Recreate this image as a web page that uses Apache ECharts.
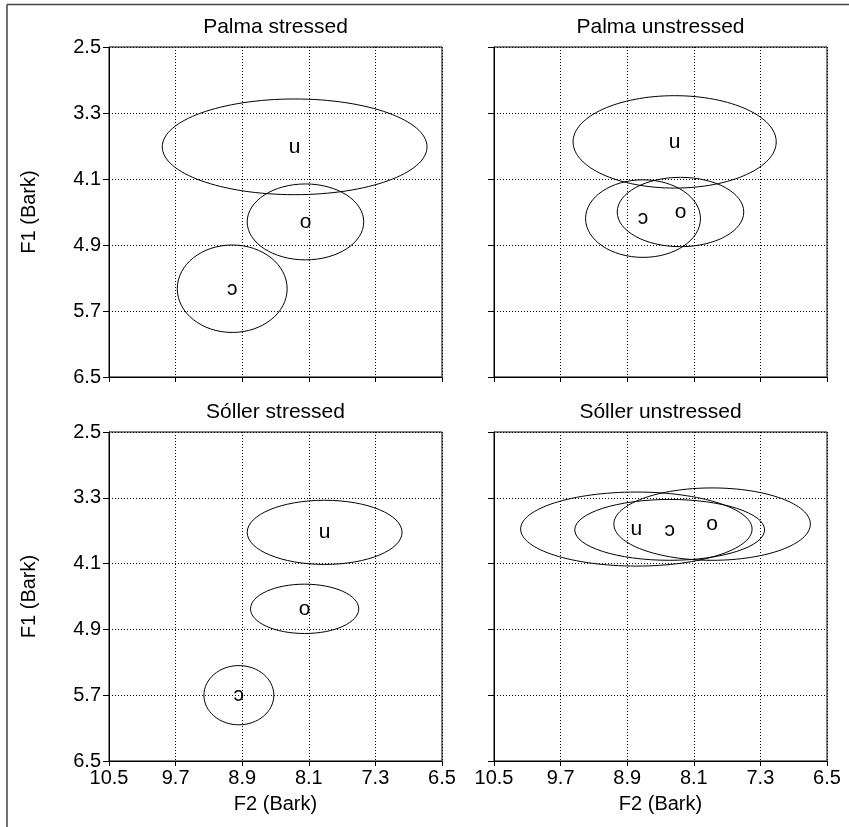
<!DOCTYPE html>
<html>
<head>
<meta charset="utf-8">
<script src="https://cdn.jsdelivr.net/npm/echarts@6/dist/echarts.min.js"></script>
<style>
  html, body { margin: 0; padding: 0; background: #fff; }
  #chart { width: 849px; height: 827px; }
</style>
</head>
<body>
<div id="chart"></div>
<script>
// panel titles, in grid order (top-left, top-right, bottom-left, bottom-right)
var panelTitles = ['Palma stressed', 'Palma unstressed', 'Sóller stressed', 'Sóller unstressed']
// vowel order inside every panel
var vowels = ['u', 'o', 'ɔ']
// ellipse centres, F2 and F1 (Bark)
var f2Centre = [[8.27, 8.14, 9.02], [8.33, 8.26, 8.71], [7.91, 8.15, 8.94], [8.79, 7.88, 8.39]]
var f1Centre = [[3.71, 4.62, 5.43], [3.65, 4.50, 4.58], [3.72, 4.65, 5.70], [3.68, 3.62, 3.69]]
// ellipse half-widths (F2) and half-heights (F1), Bark
var f2Radius = [[1.59, 0.70, 0.66], [1.22, 0.76, 0.69], [0.93, 0.65, 0.42], [1.39, 1.18, 1.14]]
var f1Radius = [[0.58, 0.46, 0.53], [0.56, 0.42, 0.47], [0.39, 0.30, 0.36], [0.45, 0.44, 0.37]]
// tick values
var f2Ticks = [10.5, 9.7, 8.9, 8.1, 7.3, 6.5]
var f1Ticks = [2.5, 3.3, 4.1, 4.9, 5.7, 6.5]

var FONT = '"Liberation Sans", Arial, Helvetica, sans-serif'

// pixel boxes of the four plots
var gridBox = [
  { left: 109, top: 47, width: 333, height: 330 },
  { left: 494, top: 47, width: 333, height: 330 },
  { left: 109, top: 432, width: 333, height: 329 },
  { left: 494, top: 432, width: 333, height: 329 }
]

var grids = []
var xAxes = []
var yAxes = []
var series = []
var graphics = []

gridBox.forEach(function (b, i) {
  var isBottom = i >= 2
  var isLeft = i % 2 === 0
  grids.push({
    left: b.left, top: b.top, width: b.width, height: b.height,
    show: true, borderColor: '#000', borderWidth: 1, backgroundColor: 'transparent'
  })
  xAxes.push({
    gridIndex: i,
    type: 'value',
    min: 6.5,
    max: 10.5,
    inverse: true,
    name: isBottom ? 'F2 (Bark)' : '',
    nameLocation: 'middle',
    nameGap: 33,
    nameTextStyle: { color: '#000', fontSize: 20, fontFamily: FONT },
    axisLine: { show: true, onZero: false, lineStyle: { color: '#000', width: 1 } },
    axisTick: { show: true, inside: false, length: 5, lineStyle: { color: '#000' }, customValues: f2Ticks },
    axisLabel: {
      show: isBottom, margin: 7, color: '#000', fontSize: 20, fontFamily: FONT,
      customValues: f2Ticks,
      formatter: function (v) { return v.toFixed(1) },
      showMinLabel: true, showMaxLabel: true
    },
    splitLine: { show: true, lineStyle: { color: '#000', type: [1, 2], width: 1 } }
  })
  yAxes.push({
    gridIndex: i,
    type: 'value',
    min: 2.5,
    max: 6.5,
    inverse: true,
    name: isLeft ? 'F1 (Bark)' : '',
    nameLocation: 'middle',
    nameGap: 70,
    nameTextStyle: { color: '#000', fontSize: 20, fontFamily: FONT },
    axisLine: { show: true, onZero: false, lineStyle: { color: '#000', width: 1 } },
    axisTick: { show: true, inside: false, length: 6, lineStyle: { color: '#000' }, customValues: f1Ticks },
    axisLabel: {
      show: isLeft, margin: 8, color: '#000', fontSize: 20, fontFamily: FONT,
      customValues: f1Ticks,
      formatter: function (v) { return v.toFixed(1) },
      showMinLabel: true, showMaxLabel: true
    },
    splitLine: { show: true, lineStyle: { color: '#000', type: [1, 2], width: 1 } }
  })

  var data = vowels.map(function (v, j) {
    return [f2Centre[i][j], f1Centre[i][j], f2Radius[i][j], f1Radius[i][j]]
  })
  series.push({
    type: 'custom',
    xAxisIndex: i,
    yAxisIndex: i,
    silent: true,
    dimensions: ['f2', 'f1', 'rf2', 'rf1'],
    encode: { x: 0, y: 1 },
    data: data,
    renderItem: function (params, api) {
      var c = [api.value(0), api.value(1)]
      var p = api.coord(c)
      var s = api.size([api.value(2) * 2, api.value(3) * 2], c)
      return {
        type: 'group',
        children: [
          {
            type: 'ellipse',
            shape: { cx: p[0], cy: p[1], rx: s[0] / 2, ry: s[1] / 2 },
            style: { fill: 'none', stroke: '#000', lineWidth: 1 }
          },
          {
            type: 'text',
            x: p[0],
            y: p[1],
            style: {
              text: vowels[params.dataIndex],
              fill: '#000',
              fontSize: 21,
              fontFamily: FONT,
              align: 'center',
              verticalAlign: 'middle'
            }
          }
        ]
      }
    }
  })

  graphics.push({
    type: 'text',
    x: b.left + b.width / 2,
    y: b.top - 20,
    style: {
      text: panelTitles[i], fill: '#000', fontSize: 21, fontFamily: FONT,
      align: 'center', verticalAlign: 'middle'
    }
  })
})

// outer frame (only top and left edges are visible)
graphics.push({ type: 'line', shape: { x1: 7, y1: 4.5, x2: 849, y2: 4.5 }, style: { stroke: '#444', lineWidth: 1.5 } })
graphics.push({ type: 'line', shape: { x1: 7, y1: 4.5, x2: 7, y2: 827 }, style: { stroke: '#444', lineWidth: 1.5 } })

var chart = echarts.init(document.getElementById('chart'), null, { renderer: 'canvas' })
chart.setOption({
  backgroundColor: '#fff',
  animation: false,
  grid: grids,
  xAxis: xAxes,
  yAxis: yAxes,
  series: series,
  graphic: graphics
})
</script>
</body>
</html>
